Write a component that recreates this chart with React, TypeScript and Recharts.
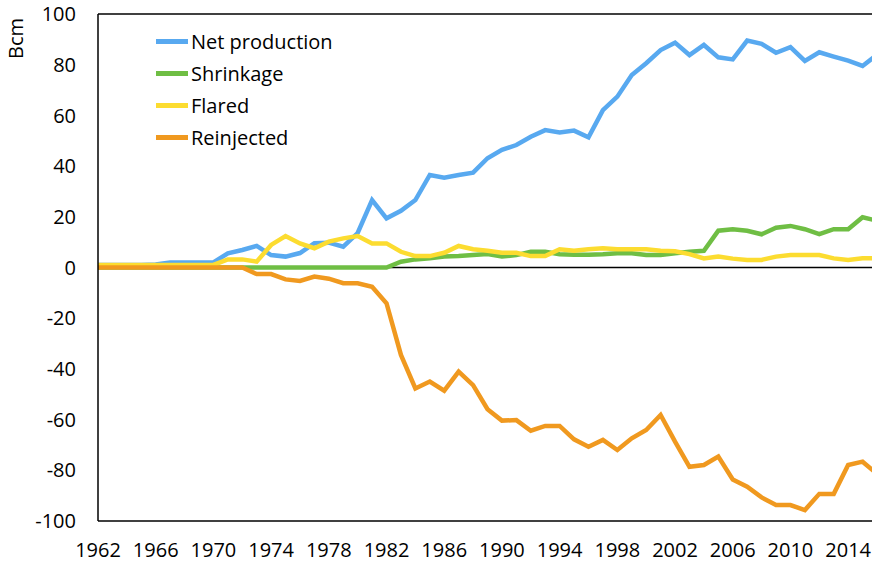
import { LineChart, Line, XAxis, YAxis, ReferenceLine, Legend } from 'recharts';

const years = [
  1962, 1963, 1964, 1965, 1966, 1967, 1968, 1969, 1970, 1971, 1972, 1973, 1974, 1975,
  1976, 1977, 1978, 1979, 1980, 1981, 1982, 1983, 1984, 1985, 1986, 1987, 1988, 1989,
  1990, 1991, 1992, 1993, 1994, 1995, 1996, 1997, 1998, 1999, 2000, 2001, 2002, 2003,
  2004, 2005, 2006, 2007, 2008, 2009, 2010, 2011, 2012, 2013, 2014, 2015, 2016,
];

const netProduction = [
  1, 1, 1, 1, 1.2, 2, 2, 2, 2,
  5.6, 6.9, 8.5, 4.9, 4.3, 5.7, 9.6, 9.8, 8.2, 13.6,
  26.6, 19.4, 22.4, 26.6, 36.5, 35.4, 36.5, 37.4, 43.1, 46.4,
  48.3, 51.6, 54.2, 53.3, 54, 51.4, 62.1, 67.4, 75.9, 80.6,
  85.8, 88.7, 83.8, 87.8, 82.9, 82.1, 89.5, 88.2, 84.7, 86.9,
  81.5, 84.9, 83.2, 81.6, 79.5, 84,
];

const shrinkage = [
  0, 0, 0, 0, 0, 0, 0, 0, 0,
  0, 0, 0, 0, 0, 0, 0, 0, 0, 0,
  0, 0, 2.3, 3.2, 3.6, 4.3, 4.5, 4.9, 5.3, 4.3,
  4.9, 6.2, 6.2, 5.2, 5, 5, 5.2, 5.6, 5.6, 4.9,
  4.9, 5.6, 6.2, 6.6, 14.5, 15.1, 14.5, 13.1, 15.7, 16.4,
  15.1, 13.2, 15.1, 15.1, 19.8, 18.5,
];

const flared = [
  1, 1, 1, 1, 1, 1, 1, 1, 1,
  3.2, 3.2, 2.3, 8.9, 12.4, 9.5, 7.6, 10.2, 11.5, 12.4,
  9.5, 9.5, 6.2, 4.5, 4.5, 5.8, 8.5, 7.2, 6.6, 5.8,
  5.8, 4.5, 4.5, 7.2, 6.6, 7.2, 7.6, 7.2, 7.2, 7.2,
  6.6, 6.4, 5.3, 3.6, 4.3, 3.5, 3, 3, 4.3, 4.9,
  4.9, 4.9, 3.6, 3, 3.6, 3.6,
];

const reinjected = [
  0, 0, 0, 0, 0, 0, 0, 0, 0,
  0, 0, -2.6, -2.6, -4.7, -5.3, -3.6, -4.4, -6.2, -6.2,
  -7.6, -14.1, -34.5, -47.7, -45, -48.6, -41.1, -46.4, -55.9, -60.4,
  -60.2, -64.4, -62.5, -62.5, -67.8, -70.7, -68, -72, -67.4, -64.1,
  -58.2, -68.7, -78.6, -77.9, -74.6, -83.6, -86.5, -90.7, -93.7, -93.7,
  -95.7, -89.3, -89.3, -77.9, -76.6, -81.4,
];

const xTicks = [1962, 1966, 1970, 1974, 1978, 1982, 1986, 1990, 1994, 1998, 2002, 2006, 2010, 2014];
const yTicks = [-100, -80, -60, -40, -20, 0, 20, 40, 60, 80, 100];

const SERIES = [
  { key: 'net', name: 'Net production', color: '#58A9F0' },
  { key: 'shrinkage', name: 'Shrinkage', color: '#6FBE44' },
  { key: 'flared', name: 'Flared', color: '#FCDC30' },
  { key: 'reinjected', name: 'Reinjected', color: '#F0991F' },
];

const data = years.map((year, i) => ({
  year,
  net: netProduction[i],
  shrinkage: shrinkage[i],
  flared: flared[i],
  reinjected: reinjected[i],
}));

const FONT = '"Open Sans", sans-serif';

function LegendBox() {
  return (
    <div style={{ fontFamily: FONT, fontSize: 20, color: '#000' }}>
      {SERIES.map((s) => (
        <div key={s.key} style={{ display: 'flex', alignItems: 'center', height: 32 }}>
          <span style={{ display: 'inline-block', width: 32, height: 5, background: s.color, marginRight: 3 }} />
          <span>{s.name}</span>
        </div>
      ))}
    </div>
  );
}

export default function App() {
  return (
    <div style={{ position: 'absolute', left: 0, top: 0, width: 872, height: 564, overflow: 'hidden', background: '#fff' }}>
      <LineChart width={900} height={564} data={data} margin={{ top: 14, right: 23, left: 0, bottom: 0 }}>
        <XAxis
          dataKey="year"
          type="number"
          domain={[1962, 2016]}
          ticks={xTicks}
          tickLine={false}
          tickSize={0}
          tickMargin={22}
          height={43}
          axisLine={{ stroke: '#000', strokeWidth: 1.5 }}
          tick={{ fill: '#000', fontSize: 20, fontFamily: FONT }}
        />
        <YAxis
          domain={[-100, 100]}
          ticks={yTicks}
          width={98}
          tickLine={false}
          tickSize={0}
          tickMargin={22}
          axisLine={{ stroke: '#000', strokeWidth: 1.5 }}
          tick={{ fill: '#000', fontSize: 20, fontFamily: FONT }}
          label={{ value: 'Bcm', angle: -90, position: 'insideTopLeft', dx: 4, dy: 40, fill: '#000', fontSize: 20, fontFamily: FONT }}
        />
        <ReferenceLine y={100} stroke="#000" strokeWidth={1.5} />
        <ReferenceLine x={2016} stroke="#000" strokeWidth={1.5} />
        <ReferenceLine y={0} stroke="#000" strokeWidth={1.5} />
        <Legend
          content={<LegendBox />}
          layout="vertical"
          align="center"
          verticalAlign="middle"
          wrapperStyle={{ position: 'absolute', left: 156, top: 25, width: 220 }}
        />
        {SERIES.map((s) => (
          <Line
            key={s.key}
            type="linear"
            dataKey={s.key}
            name={s.name}
            stroke={s.color}
            strokeWidth={4.5}
            dot={false}
            activeDot={false}
            isAnimationActive={false}
          />
        ))}
      </LineChart>
    </div>
  );
}
